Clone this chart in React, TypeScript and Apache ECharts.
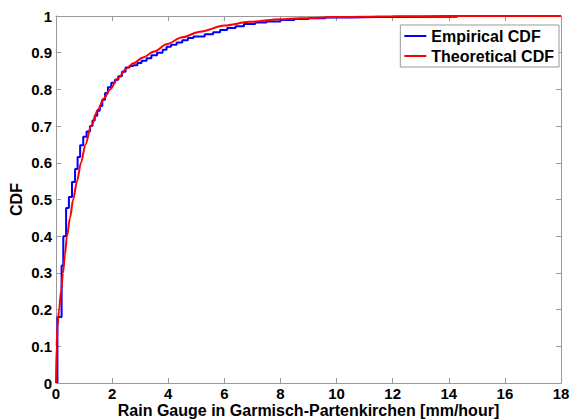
import React, { useEffect, useRef } from "react";
import * as echarts from "echarts";

const xTicks = [0, 2, 4, 6, 8, 10, 12, 14, 16, 18];
const seriesNames = ["Empirical CDF", "Theoretical CDF"];

// Empirical CDF jump locations and levels after each jump
const empX = [0.05, 0.05, 0.2, 0.26, 0.36, 0.46, 0.57, 0.68, 0.77, 0.86, 0.97, 1.09, 1.21, 1.3, 1.38, 1.47, 1.56, 1.65, 1.75, 1.85, 1.97, 2.1, 2.22, 2.35, 2.48, 2.62, 2.75, 2.9, 3.05, 3.23, 3.4, 3.6, 3.8, 3.94, 4.1, 4.3, 4.5, 4.7, 4.9, 5.3, 5.6, 5.85, 6.1, 6.4, 6.7, 7.1, 7.5, 8.0, 8.5, 9.0, 9.6, 10.5, 11.5, 14.3];
const empF = [0, 0.18, 0.32, 0.4, 0.477, 0.507, 0.548, 0.583, 0.616, 0.648, 0.671, 0.685, 0.7, 0.715, 0.728, 0.742, 0.755, 0.772, 0.79, 0.806, 0.818, 0.826, 0.836, 0.848, 0.86, 0.864, 0.866, 0.872, 0.878, 0.885, 0.893, 0.9, 0.908, 0.916, 0.922, 0.928, 0.934, 0.94, 0.944, 0.95, 0.956, 0.962, 0.967, 0.972, 0.978, 0.982, 0.985, 0.989, 0.992, 0.994, 0.996, 0.997, 0.998, 1.0];

// Theoretical CDF
const theoX = [0, 0.02, 0.05, 0.11, 0.18, 0.25, 0.32, 0.39, 0.5, 0.61, 0.75, 0.89, 1.05, 1.25, 1.5, 1.7, 1.93, 2.2, 2.52, 2.75, 3.1, 3.5, 3.94, 4.5, 5.13, 6.0, 6.9, 8.0, 8.7, 10, 11, 12, 14, 16, 18];
const theoF = [0, 0.1, 0.15, 0.2, 0.25, 0.3, 0.35, 0.4, 0.45, 0.5, 0.55, 0.6, 0.65, 0.7, 0.745, 0.775, 0.8, 0.83, 0.857, 0.871, 0.887, 0.903, 0.923, 0.942, 0.957, 0.974, 0.984, 0.991, 0.994, 0.997, 0.998, 0.999, 1, 1, 1];

const FONT = "'Liberation Sans', Arial, sans-serif";
const AXIS_COLOR = "#999999";

export default function App() {
  const ref = useRef<HTMLDivElement>(null);
  useEffect(() => {
    if (!ref.current) return;
    const chart = echarts.init(ref.current, null, { renderer: "svg" });
    const empData = empX.map((x, i) => [x, empF[i]]);
    const theoData = theoX.map((x, i) => [x, theoF[i]]);
    const labelStyle = { color: "#000", fontSize: 15, fontWeight: "bold" as const, fontFamily: FONT };
    const nameStyle = { ...labelStyle, fontSize: 16 };
    chart.setOption({
      animation: false,
      backgroundColor: "#fff",
      grid: { left: 56, right: 9, top: 16, bottom: 36, show: false, containLabel: false, outerBoundsMode: "none" },
      legend: {
        data: seriesNames,
        orient: "vertical",
        right: 11,
        top: 25,
        backgroundColor: "#fff",
        borderColor: AXIS_COLOR,
        borderWidth: 1,
        borderRadius: 0,
        padding: [3, 5, 3, 4],
        itemGap: 4,
        itemWidth: 22,
        itemHeight: 2,
        icon: "rect",
        textStyle: { color: "#000", fontSize: 16, fontWeight: "bold", fontFamily: FONT },
      },
      xAxis: [
        {
          type: "value",
          min: 0,
          max: 18,
          interval: 2,
          name: "Rain Gauge in Garmisch-Partenkirchen [mm/hour]",
          nameLocation: "middle",
          nameGap: 19,
          nameMoveOverlap: false,
          nameTextStyle: { ...nameStyle, verticalAlign: "top", lineHeight: 16 },
          axisLine: { show: true, onZero: false, lineStyle: { color: AXIS_COLOR, width: 1 } },
          axisTick: { show: true, inside: true, length: 5, lineStyle: { color: AXIS_COLOR } },
          axisLabel: { ...labelStyle, margin: 3, formatter: (v: number) => (xTicks.includes(v) ? String(v) : "") },
          splitLine: { show: false },
        },
        {
          type: "value",
          position: "top",
          min: 0,
          max: 18,
          interval: 2,
          axisLine: { show: true, onZero: false, lineStyle: { color: AXIS_COLOR, width: 1 } },
          axisTick: { show: true, inside: true, length: 5, lineStyle: { color: AXIS_COLOR } },
          axisLabel: { show: false },
          splitLine: { show: false },
        },
      ],
      yAxis: [
        {
          type: "value",
          min: 0,
          max: 1,
          interval: 0.1,
          name: "CDF",
          nameLocation: "middle",
          nameGap: 32,
          nameMoveOverlap: false,
          nameTextStyle: nameStyle,
          axisLine: { show: true, onZero: false, lineStyle: { color: AXIS_COLOR, width: 1 } },
          axisTick: { show: true, inside: true, length: 5, lineStyle: { color: AXIS_COLOR } },
          axisLabel: { ...labelStyle, margin: 4, formatter: (v: number) => String(Math.round(v * 10) / 10) },
          splitLine: { show: false },
        },
        {
          type: "value",
          position: "right",
          min: 0,
          max: 1,
          interval: 0.1,
          axisLine: { show: true, onZero: false, lineStyle: { color: AXIS_COLOR, width: 1 } },
          axisTick: { show: true, inside: true, length: 5, lineStyle: { color: AXIS_COLOR } },
          axisLabel: { show: false },
          splitLine: { show: false },
        },
      ],
      series: [
        {
          name: seriesNames[0],
          type: "line",
          step: "end",
          data: empData,
          showSymbol: false,
          symbol: "none",
          lineStyle: { color: "#0000ff", width: 2 },
          itemStyle: { color: "#0000ff" },
          xAxisIndex: 0,
          yAxisIndex: 0,
          z: 2,
        },
        {
          name: seriesNames[1],
          type: "line",
          data: theoData,
          smooth: 0.3,
          smoothMonotone: "x",
          showSymbol: false,
          symbol: "none",
          lineStyle: { color: "#ff0000", width: 2 },
          itemStyle: { color: "#ff0000" },
          xAxisIndex: 0,
          yAxisIndex: 0,
          z: 3,
        },
      ],
    });
    return () => chart.dispose();
  }, []);
  return (
    <div
      ref={ref}
      style={{ position: "fixed", left: 0, top: 0, width: 570, height: 419, background: "#fff" }}
    />
  );
}
